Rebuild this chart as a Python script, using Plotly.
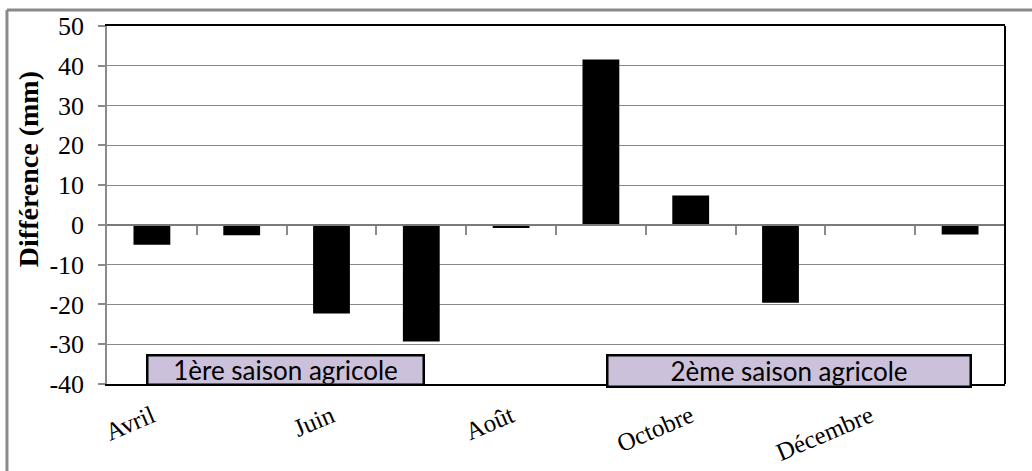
import plotly.graph_objects as go

months = ["Avril", "Mai", "Juin", "Juillet", "Août", "Septembre",
          "Octobre", "Novembre", "Décembre", "Janvier"]
difference_mm = [-5.0, -2.6, -22.3, -29.3, -0.8, 41.6, 7.4, -19.6, 0.0, -2.4]
shown_labels = months[::2]
y_ticks = [-40, -30, -20, -10, 0, 10, 20, 30, 40, 50]
season_labels = ["1ère saison agricole", "2ème saison agricole"]
y_title = "Différence (mm)"

Y_MIN, Y_MAX = -40, 50
SERIF = "Times New Roman, Liberation Serif, serif"

fig = go.Figure()
fig.add_trace(go.Bar(x=months, y=difference_mm, marker=dict(color="black", line=dict(width=0)),
                     width=0.41, showlegend=False, hoverinfo="x+y"))
# helper axis drawn at the zero level (category boundary ticks)
fig.add_trace(go.Scatter(x=[], y=[], xaxis="x2", yaxis="y", showlegend=False))

n = len(months)
fig.update_layout(
    width=1032, height=471,
    margin=dict(l=107, r=27, t=26, b=87),
    paper_bgcolor="white", plot_bgcolor="white",
    font=dict(family=SERIF, color="black"),
    xaxis=dict(
        type="category", categoryorder="array", categoryarray=months,
        range=[-0.5, n - 0.5], automargin=False,
        tickmode="array", tickvals=shown_labels, ticktext=shown_labels,
        tickangle=-23, tickfont=dict(family=SERIF, size=25, color="black"),
        ticks="", ticklabelstandoff=6,
        showline=True, linecolor="black", linewidth=2, mirror=True,
        showgrid=False, zeroline=False,
    ),
    xaxis2=dict(
        overlaying="x", anchor="free", position=(0 - Y_MIN) / (Y_MAX - Y_MIN),
        range=[-0.5, n - 0.5], side="bottom", automargin=False,
        tickmode="array", tickvals=[i + 0.5 for i in range(n)],
        ticks="outside", ticklen=9, tickwidth=2, tickcolor="#8a8a8a",
        showticklabels=False, showline=True, linecolor="#7a7a7a", linewidth=2,
        showgrid=False, zeroline=False, mirror=False,
    ),
    yaxis=dict(
        range=[Y_MIN, Y_MAX], tickmode="array", tickvals=y_ticks,
        ticktext=[str(v) for v in y_ticks], automargin=False,
        tickfont=dict(family=SERIF, size=26, color="black"),
        ticks="outside", ticklen=7, tickcolor="#8a8a8a", tickwidth=1.5,
        ticklabelstandoff=9,
        showgrid=True, gridcolor="#8a8a8a", gridwidth=1.3,
        showline=True, linecolor="#8a8a8a", linewidth=1.5,
        zeroline=False,
    ),
    bargap=0.59,
)

# y-axis title (placed like the original, above centre)
fig.add_annotation(xref="paper", yref="paper", x=-0.088, y=0.60, xanchor="center", yanchor="middle",
                   text="<b>" + y_title + "</b>", textangle=-90, showarrow=False,
                   font=dict(family=SERIF, size=28, color="black"))

# right border of the plot area
fig.add_shape(type="line", xref="paper", yref="paper", x0=1, x1=1, y0=0, y1=1,
              line=dict(color="black", width=2))
# outer chart frame (left and top edges)
fig.add_shape(type="line", xref="paper", yref="paper", x0=-0.1114, x1=-0.1114, y0=-0.25, y1=1.0447,
              line=dict(color="#8a8a8a", width=3))
fig.add_shape(type="line", xref="paper", yref="paper", x0=-0.1114, x1=1.04, y0=1.0447, y1=1.0447,
              line=dict(color="#8a8a8a", width=3))

# season boxes
boxes = [(0.199, 0.040, 274, 27), (0.760, 0.036, 361, 29)]
for text, (bx, by, bw, bh) in zip(season_labels, boxes):
    fig.add_annotation(xref="paper", yref="paper", x=bx, y=by, xanchor="center", yanchor="middle",
                       text=text, showarrow=False, width=bw, height=bh,
                       font=dict(family="Lato, Open Sans, sans-serif", size=26, color="black"),
                       bgcolor="#ccc1da", bordercolor="black", borderwidth=2.5, borderpad=0)

fig.write_html("out.html", config={"displayModeBar": False},
               post_script="document.body.style.margin='0';document.body.style.overflow='hidden';")
